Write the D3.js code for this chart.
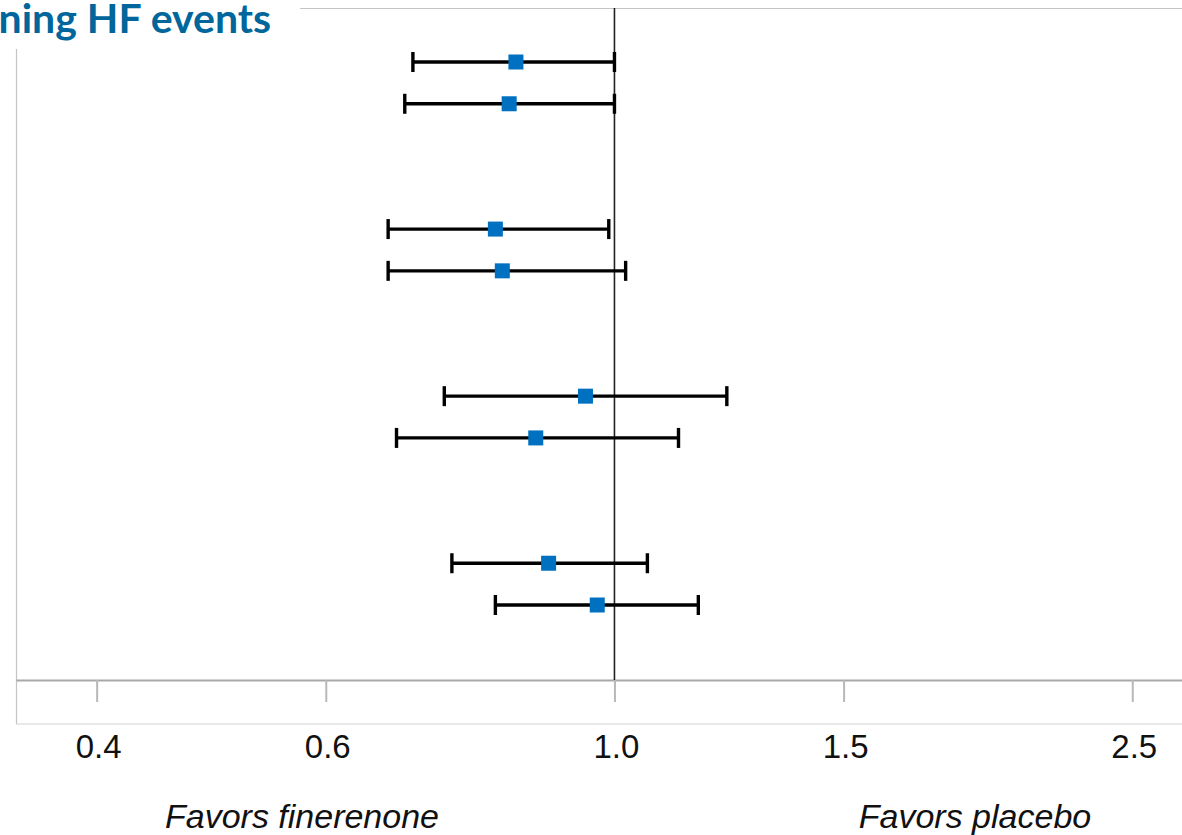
<!DOCTYPE html>
<html>
<head>
<meta charset="utf-8">
<script src="https://cdn.jsdelivr.net/npm/d3@7"></script>
<style>
  html, body { margin: 0; padding: 0; background: #fff; overflow: hidden; }
</style>
</head>
<body>
<div id="forest"></div>
<script>
// Hazard ratios with 95% CI, one entry per row (rows come in pairs)
const rowSlots = [0, 1, 4, 5, 8, 9, 12, 13];
const hazardRatio = [0.84, 0.83, 0.81, 0.82, 0.95, 0.87, 0.89, 0.97];
const ciLower = [0.70, 0.69, 0.67, 0.67, 0.74, 0.68, 0.75, 0.81];
const ciUpper = [1.00, 1.00, 0.99, 1.02, 1.22, 1.12, 1.06, 1.16];

// Axis ticks
const tickValues = [0.4, 0.6, 1.0, 1.5, 2.5];
const tickLabels = ["0.4", "0.6", "1.0", "1.5", "2.5"];

const titleText = "Worsening HF events";
const leftNote = "Favors finerenone";
const rightNote = "Favors placebo";

const width = 1182, height = 835;

const svg = d3.select("#forest").append("svg")
  .attr("width", width)
  .attr("height", height);

// Log scale for the hazard ratio, 1.0 sits at ~614px
const x = d3.scaleLog()
  .domain([0.3468, 2.73])
  .range([16, 1182]);

// rows are evenly spaced slots
const y = d3.scaleLinear()
  .domain([0, 13])
  .range([62, 605]);

const axisY = 680;
const grey = "#b8b8b8";

// plot frame (top, left, bottom)
svg.append("line")
  .attr("x1", 300).attr("x2", width)
  .attr("y1", 8.5).attr("y2", 8.5)
  .attr("stroke", "#c4c4c4").attr("stroke-width", 1.2);
svg.append("line")
  .attr("x1", 16.5).attr("x2", 16.5)
  .attr("y1", 49).attr("y2", 724)
  .attr("stroke", "#c4c4c4").attr("stroke-width", 1.2);
svg.append("line")
  .attr("x1", 16).attr("x2", width)
  .attr("y1", 724).attr("y2", 724)
  .attr("stroke", "#d4d4d4").attr("stroke-width", 1.2);

// x axis
const xAxis = d3.axisBottom(x)
  .tickValues(tickValues)
  .tickFormat("")
  .tickSize(22)
  .tickSizeOuter(0);

const axisG = svg.append("g")
  .attr("transform", `translate(0,${axisY})`)
  .call(xAxis);
axisG.select(".domain")
  .attr("stroke", "#a8a8a8").attr("stroke-width", 2.2);
axisG.selectAll(".tick line")
  .attr("stroke", grey).attr("stroke-width", 2);

// tick labels
svg.selectAll(".tickLabel")
  .data(tickValues)
  .enter()
  .append("text")
  .classed("tickLabel", true)
  .attr("x", d => x(d) + 2)
  .attr("y", 758)
  .attr("text-anchor", "middle")
  .attr("font-family", "Liberation Sans, Arial, sans-serif")
  .attr("font-size", "33px")
  .attr("fill", "#111")
  .text((d, i) => tickLabels[i]);

// line of no effect
svg.append("line")
  .attr("x1", x(1)).attr("x2", x(1))
  .attr("y1", 8).attr("y2", axisY)
  .attr("stroke", "#222").attr("stroke-width", 1.6);

// confidence intervals
const rows = svg.selectAll(".row")
  .data(hazardRatio)
  .enter()
  .append("g")
  .classed("row", true);

rows.append("line")
  .attr("x1", (d, i) => x(ciLower[i]))
  .attr("x2", (d, i) => x(ciUpper[i]))
  .attr("y1", (d, i) => y(rowSlots[i]))
  .attr("y2", (d, i) => y(rowSlots[i]))
  .attr("stroke", "#000").attr("stroke-width", 3.4);

const capHalf = 10;
rows.append("line")
  .attr("x1", (d, i) => x(ciLower[i]))
  .attr("x2", (d, i) => x(ciLower[i]))
  .attr("y1", (d, i) => y(rowSlots[i]) - capHalf)
  .attr("y2", (d, i) => y(rowSlots[i]) + capHalf)
  .attr("stroke", "#000").attr("stroke-width", 3.4);

rows.append("line")
  .attr("x1", (d, i) => x(ciUpper[i]))
  .attr("x2", (d, i) => x(ciUpper[i]))
  .attr("y1", (d, i) => y(rowSlots[i]) - capHalf)
  .attr("y2", (d, i) => y(rowSlots[i]) + capHalf)
  .attr("stroke", "#000").attr("stroke-width", 3.4);

// point estimates
const box = 15;
rows.append("rect")
  .attr("x", d => x(d) - box / 2)
  .attr("y", (d, i) => y(rowSlots[i]) - box / 2)
  .attr("width", box)
  .attr("height", box)
  .attr("fill", "#0070c0");

// favour notes
svg.append("text")
  .attr("x", 302).attr("y", 828)
  .attr("text-anchor", "middle")
  .attr("font-family", "Liberation Sans, Arial, sans-serif")
  .attr("font-style", "italic")
  .attr("font-size", "34px")
  .attr("fill", "#111")
  .text(leftNote);

svg.append("text")
  .attr("x", 975).attr("y", 828)
  .attr("text-anchor", "middle")
  .attr("font-family", "Liberation Sans, Arial, sans-serif")
  .attr("font-style", "italic")
  .attr("font-size", "34px")
  .attr("fill", "#111")
  .text(rightNote);

// title, clipped on the left like the slide it came from
svg.append("text")
  .attr("x", 271).attr("y", 33)
  .attr("text-anchor", "end")
  .attr("font-family", "Lato, sans-serif")
  .attr("font-weight", "bold")
  .attr("font-size", "41px")
  .attr("fill", "#00669c")
  .text(titleText);
</script>
</body>
</html>
